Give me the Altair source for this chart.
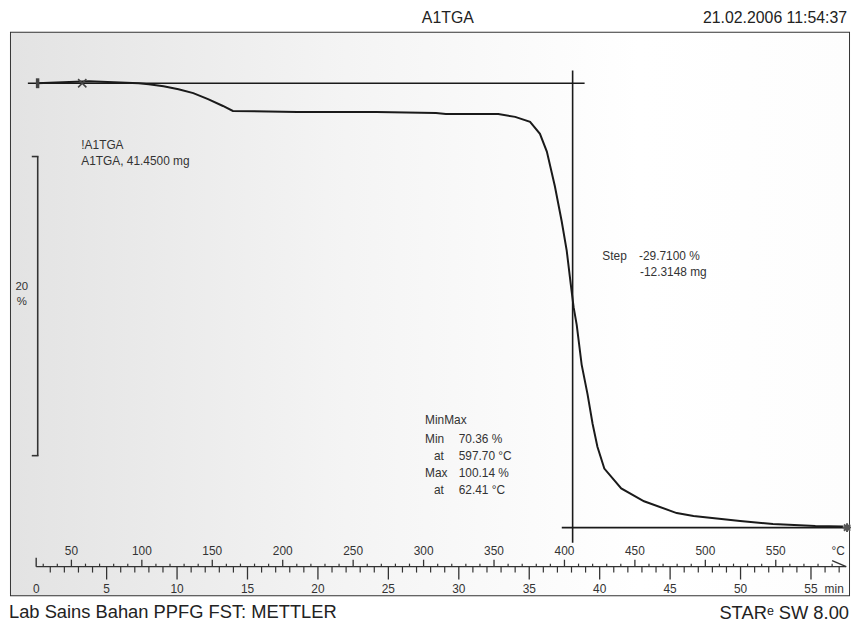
import altair as alt
import pandas as pd

# ---------------- data ----------------
curve_T = [25.4, 62.41, 97.8, 104.9, 115.4, 126.0, 136.5, 147.0, 157.6, 164.6,
           210.3, 266.6, 308.8, 315.8, 353.0, 365.0, 375.6, 382.6, 387.5, 393.2,
           398.0, 401.6, 404.4, 406.5, 408.7, 412.2, 416.4, 420.0, 423.4, 428.3,
           440.3, 456.5, 479.7, 491.6, 524.7, 548.0, 578.1, 597.7]
curve_pct = [100.0, 100.14, 100.0, 99.93, 99.8, 99.6, 99.34, 98.94, 98.48, 98.15,
             98.08, 98.08, 98.01, 97.95, 97.95, 97.75, 97.42, 96.62, 95.43, 93.11,
             90.79, 88.81, 86.62, 85.03, 83.84, 81.19, 79.2, 77.22, 75.7, 74.24,
             72.91, 72.05, 71.26, 71.06, 70.73, 70.53, 70.4, 70.36]

temp_labels = [50, 100, 150, 200, 250, 300, 350, 400, 450, 500, 550]
time_labels = [0, 5, 10, 15, 20, 25, 30, 35, 40, 45, 50, 55]
start_temp = 25.0      # °C at t = 0
heating_rate = 10.0    # °C / min
end_temp = 600.0

step_top = 100.0
step_bottom = 70.29
step_inflection_T = 405.8
step_left_T = [19.1, 398.1]
step_right_T = [414.3, 602.0]
step_line_ext = [100.86, 69.27]
scale_bar = [95.1, 75.1]          # 20 % bar

title_text = "A1TGA"
date_text = "21.02.2006 11:54:37"
footer_left = "Lab Sains Bahan PPFG FST: METTLER"
footer_right = "STARᵉ SW 8.00"
sample_lines = ["!A1TGA", "A1TGA, 41.4500 mg"]
step_lines = ["Step", "-29.7100 %", "-12.3148 mg"]
minmax_lines = ["MinMax", "Min", "70.36 %", "at", "597.70 °C", "Max", "100.14 %", "at", "62.41 °C"]

# ---------------- layout ----------------
W, H = 846, 568
FONT = "Liberation Sans, Arial, sans-serif"
INK = "#1a1a1a"
xs = alt.Scale(domain=[7.1, 602.0], nice=False, zero=False)
ys = alt.Scale(domain=[65.76, 103.38], nice=False, zero=False)
RULER_Y = 539

one = pd.DataFrame({"a": [0]})

bg = alt.Chart(one).mark_rect(
    color=alt.Gradient(
        gradient="linear", x1=0, x2=1, y1=0, y2=0,
        stops=[alt.GradientStop(color="#e3e3e3", offset=0),
               alt.GradientStop(color="#f4f4f4", offset=0.4),
               alt.GradientStop(color="#ffffff", offset=0.75),
               alt.GradientStop(color="#fdfdfd", offset=1)])
).encode(x=alt.value(0), x2=alt.value(W), y=alt.value(0), y2=alt.value(H))

curve = alt.Chart(pd.DataFrame({"T": curve_T, "pct": curve_pct})).mark_line(
    color=INK, strokeWidth=2
).encode(x=alt.X("T:Q", scale=xs, axis=None), y=alt.Y("pct:Q", scale=ys, axis=None))

hlines = alt.Chart(pd.DataFrame({"x1": step_left_T, "x2": step_right_T,
                                 "y": [step_top, step_bottom]})).mark_rule(
    color=INK, strokeWidth=1.6
).encode(x=alt.X("x1:Q", scale=xs, axis=None), x2="x2:Q",
         y=alt.Y("y:Q", scale=ys, axis=None))

vline = alt.Chart(pd.DataFrame({"T": [step_inflection_T], "y1": [step_line_ext[0]],
                                "y2": [step_line_ext[1]]})).mark_rule(
    color=INK, strokeWidth=1.6
).encode(x=alt.X("T:Q", scale=xs, axis=None), y=alt.Y("y1:Q", scale=ys, axis=None), y2="y2:Q")

# markers
start_mark = alt.Chart(pd.DataFrame({"T": [26.0], "pct": [step_top]})).mark_point(
    shape="M-0.35,-1H0.35V1H-0.35Z", filled=True, color="#444", size=100, opacity=1
).encode(x=alt.X("T:Q", scale=xs, axis=None), y=alt.Y("pct:Q", scale=ys, axis=None))
x_mark = alt.Chart(pd.DataFrame({"T": [57.7], "pct": [step_top]})).mark_point(
    shape="M-1,-1L1,1M-1,1L1,-1", filled=False, color="#444", strokeWidth=1.5, size=70, opacity=1
).encode(x=alt.X("T:Q", scale=xs, axis=None), y=alt.Y("pct:Q", scale=ys, axis=None))
end_mark = alt.Chart(pd.DataFrame({"T": [600.6], "pct": [step_bottom]})).mark_point(
    shape="M-1,0L1,0M0,-1L0,1M-0.7,-0.7L0.7,0.7M-0.7,0.7L0.7,-0.7", filled=False,
    color="#555", strokeWidth=2, size=80, opacity=1
).encode(x=alt.X("T:Q", scale=xs, axis=None), y=alt.Y("pct:Q", scale=ys, axis=None))

# 20 % scale bar
bar_df = pd.DataFrame({"y1": [scale_bar[0]], "y2": [scale_bar[1]]})
bar_v = alt.Chart(bar_df).mark_rule(color="#333", strokeWidth=1.6).encode(
    x=alt.value(27), y=alt.Y("y1:Q", scale=ys, axis=None), y2="y2:Q")
bar_ends = alt.Chart(pd.DataFrame({"y": scale_bar})).mark_rule(color="#333", strokeWidth=1.6).encode(
    x=alt.value(21), x2=alt.value(27.8), y=alt.Y("y:Q", scale=ys, axis=None))
bar_txt = alt.Chart(pd.DataFrame({"t": ["20", "%"], "py": [257, 272]})).mark_text(
    font=FONT, fontSize=11.5, color="#333", align="center", baseline="middle"
).encode(x=alt.value(11), y=alt.Y("py:Q", scale=None), text="t:N")

# ruler
ruler_line = alt.Chart(pd.DataFrame({"a": [start_temp], "b": [end_temp]})).mark_rule(
    color="#333", strokeWidth=1.4
).encode(x=alt.X("a:Q", scale=xs, axis=None), x2="b:Q", y=alt.value(RULER_Y))
ruler_start = alt.Chart(pd.DataFrame({"a": [start_temp]})).mark_rule(color="#333", strokeWidth=1.4).encode(
    x=alt.X("a:Q", scale=xs, axis=None), y=alt.value(RULER_Y - 9), y2=alt.value(RULER_Y))
ruler_end = alt.Chart(pd.DataFrame({"a": [590.0], "b": [end_temp]})).mark_rule(color="#333", strokeWidth=1.4).encode(
    x=alt.X("a:Q", scale=xs, axis=None), x2="b:Q", y=alt.value(RULER_Y - 6), y2=alt.value(RULER_Y))

t_minor = [v for v in range(30, 600, 10) if v % 50]
t_major = [v for v in range(50, 600, 50)]
temp_minor = alt.Chart(pd.DataFrame({"T": t_minor})).mark_rule(color="#333", strokeWidth=1.2).encode(
    x=alt.X("T:Q", scale=xs, axis=None), y=alt.value(RULER_Y - 3), y2=alt.value(RULER_Y))
temp_major = alt.Chart(pd.DataFrame({"T": t_major})).mark_rule(color="#333", strokeWidth=1.3).encode(
    x=alt.X("T:Q", scale=xs, axis=None), y=alt.value(RULER_Y - 7), y2=alt.value(RULER_Y))

m_all = list(range(1, 58))
m_minor = [start_temp + heating_rate * m for m in m_all if m % 5]
m_major = [start_temp + heating_rate * m for m in m_all if m % 5 == 0]
time_minor = alt.Chart(pd.DataFrame({"T": m_minor})).mark_rule(color="#333", strokeWidth=1.2).encode(
    x=alt.X("T:Q", scale=xs, axis=None), y=alt.value(RULER_Y), y2=alt.value(RULER_Y + 6))
time_major = alt.Chart(pd.DataFrame({"T": m_major})).mark_rule(color="#333", strokeWidth=1.3).encode(
    x=alt.X("T:Q", scale=xs, axis=None), y=alt.value(RULER_Y), y2=alt.value(RULER_Y + 13))

temp_lab = alt.Chart(pd.DataFrame({"T": temp_labels, "t": [str(v) for v in temp_labels]})).mark_text(
    font=FONT, fontSize=12, color="#333", baseline="middle"
).encode(x=alt.X("T:Q", scale=xs, axis=None), y=alt.value(523), text="t:N")
time_lab = alt.Chart(pd.DataFrame({"T": [start_temp + heating_rate * m for m in time_labels],
                                   "t": [str(v) for v in time_labels]})).mark_text(
    font=FONT, fontSize=12, color="#333", baseline="middle"
).encode(x=alt.X("T:Q", scale=xs, axis=None), y=alt.value(562), text="t:N")
units = alt.Chart(pd.DataFrame({"t": ["°C", "min"], "px": [835, 831], "py": [523, 562]})).mark_text(
    font=FONT, fontSize=12, color="#333", baseline="middle"
).encode(x=alt.X("px:Q", scale=None), y=alt.Y("py:Q", scale=None), text="t:N")

# annotation texts (pixel layout relative to plot area)
ann = pd.DataFrame({
    "t": sample_lines + step_lines + minmax_lines,
    "px": [71, 71, 597, 634, 635, 418, 418, 452, 427, 452, 418, 452, 427, 452],
    "py": [113, 130, 225, 225, 242, 391, 410, 410, 427, 427, 445, 445, 462, 462],
})
ann_txt = alt.Chart(ann).mark_text(
    font=FONT, fontSize=12, color="#333", align="left", baseline="middle"
).encode(x=alt.X("px:Q", scale=None), y=alt.Y("py:Q", scale=None), text="t:N")

titles = alt.Chart(pd.DataFrame({
    "t": [title_text, date_text], "px": [441, 844], "py": [-10, -10],
    "al": ["center", "right"]})).mark_text(
    font=FONT, fontSize=16, color="#222", baseline="alphabetic"
)
title1 = alt.Chart(pd.DataFrame({"t": [title_text]})).mark_text(
    font=FONT, fontSize=16, color="#222", baseline="alphabetic", align="center"
).encode(x=alt.value(441), y=alt.value(-10), text="t:N")
title2 = alt.Chart(pd.DataFrame({"t": [date_text]})).mark_text(
    font=FONT, fontSize=16, color="#222", baseline="alphabetic", align="right"
).encode(x=alt.value(844), y=alt.value(-10), text="t:N")
foot1 = alt.Chart(pd.DataFrame({"t": [footer_left]})).mark_text(
    font=FONT, fontSize=18.5, color="#222", baseline="alphabetic", align="left"
).encode(x=alt.value(-2), y=alt.value(591), text="t:N")
foot2 = alt.Chart(pd.DataFrame({"t": [footer_right]})).mark_text(
    font=FONT, fontSize=18.5, color="#222", baseline="alphabetic", align="right"
).encode(x=alt.value(846), y=alt.value(592), text="t:N")

chart = alt.layer(
    bg, hlines, vline, curve, start_mark, x_mark, end_mark,
    bar_v, bar_ends, bar_txt,
    ruler_line, ruler_start, ruler_end, temp_minor, temp_major, time_minor, time_major,
    temp_lab, time_lab, units, ann_txt, title1, title2, foot1, foot2
).properties(
    width=W, height=H,
    autosize=alt.AutoSizeParams(type="none"),
    padding={"left": 3, "top": 22, "right": 2, "bottom": 27},
    background="white",
).configure_view(stroke="#333333", strokeWidth=2)

chart.save("out.html", embed_options={"renderer": "svg", "actions": False})
